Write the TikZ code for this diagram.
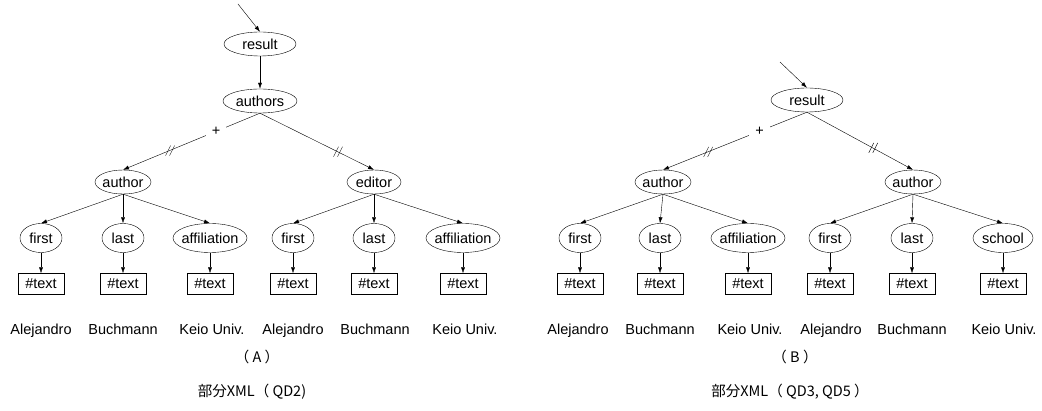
\documentclass[tikz,border=0pt]{standalone}
\usepackage{fontspec}
\setmainfont{Liberation Sans}
\newfontfamily\jpfont{Noto Sans CJK JP}
\usetikzlibrary{arrows.meta,shapes.geometric}

\tikzset{
  el/.style={draw, ellipse, inner sep=0pt, minimum height=24pt, minimum width=#1},
  leaf/.style={draw, ellipse, inner sep=0pt, minimum height=29pt, minimum width=#1},
  txt/.style={draw, rectangle, inner sep=0pt, minimum width=46pt, minimum height=21pt},
  val/.style={anchor=base},
  arr/.style={-{Latex[length=6pt,width=4pt]}},
  plus/.style={fill=white, inner sep=6pt},
}
\newcommand{\tg}[1]{\makebox[0pt]{#1}}
\newcommand{\cut}[1]{%
  \draw ([shift={(-4,5)}]#1) -- ++(5,-10);
  \draw ([shift={(0,5)}]#1) -- ++(5,-10);}

\begin{document}
\begin{tikzpicture}[x=1pt, y=-1pt, font=\fontsize{14.5}{17}\selectfont]
\useasboundingbox (0,0) rectangle (1042,411);

% (A) tree
\coordinate (inA) at (238,4);
\node[el=72pt] (resA) at (260,44) {\tg{result}};
\node[el=74pt] (auths) at (260,101) {\tg{authors}};
\node[el=56pt] (authA) at (123,182) {\tg{author}};
\node[el=54pt] (edit) at (374,182) {\tg{editor}};

\node[leaf=42pt] (fA1) at (41,238) {\tg{first}};
\node[leaf=42pt] (lA1) at (123,238) {\tg{last}};
\node[leaf=74pt] (aA1) at (210,238) {\tg{affiliation}};
\node[leaf=42pt] (fA2) at (293,238) {\tg{first}};
\node[leaf=42pt] (lA2) at (374,238) {\tg{last}};
\node[leaf=74pt] (aA2) at (463,238) {\tg{affiliation}};

\foreach \n in {fA1,lA1,aA1,fA2,lA2,aA2}
  \node[txt] (t\n) at ([yshift=-46pt]\n) {\#text};

\node[val] (vA1) at (41,335) {Alejandro};
\node[val] (vA2) at (123,335) {Buchmann};
\node[val] (vA3) at (212,335) {Keio Univ.};
\node[val] (vA4) at (293,335) {Alejandro};
\node[val] (vA5) at (375,335) {Buchmann};
\node[val] (vA6) at (465,335) {Keio Univ.};

\draw[arr] (inA) -- (resA.north);
\draw[arr] (resA) -- (auths);
\draw[arr] (auths.south) -- coordinate[pos=0.66] (cA1)
  node[pos=0.32, plus] (pA) {+} (authA.north);
\draw[arr] (auths.south) -- coordinate[pos=0.68] (cA2) (edit.north);
\cut{cA1}
\cut{cA2}

\foreach \c in {fA1,lA1,aA1}
  \draw[arr] (authA.south) -- (\c.north);
\foreach \c in {fA2,lA2,aA2}
  \draw[arr] (edit.south) -- (\c.north);
\foreach \c in {fA1,lA1,aA1,fA2,lA2,aA2}
  \draw[arr] (\c) -- (t\c);

\node (capA) at (257,357) {\jpfont （ A ）};
\node (subA) at (252,392) {\jpfont 部分XML（ QD2)};

% (B) tree
\coordinate (inB) at (780,62);
\node[el=72pt] (resB) at (807,100) {\tg{result}};
\node[el=56pt] (authB1) at (663,182) {\tg{author}};
\node[el=56pt] (authB2) at (913,182) {\tg{author}};

\node[leaf=42pt] (fB1) at (580,238) {\tg{first}};
\node[leaf=42pt] (lB1) at (660,238) {\tg{last}};
\node[leaf=74pt] (aB1) at (748,238) {\tg{affiliation}};
\node[leaf=42pt] (fB2) at (830,238) {\tg{first}};
\node[leaf=42pt] (lB2) at (912,238) {\tg{last}};
\node[leaf=60pt] (sB2) at (1003,238) {\tg{school}};

\foreach \n in {fB1,lB1,aB1,fB2,lB2,sB2}
  \node[txt] (t\n) at ([yshift=-46pt]\n) {\#text};

\node[val] (vB1) at (578,335) {Alejandro};
\node[val] (vB2) at (660,335) {Buchmann};
\node[val] (vB3) at (750,335) {Keio Univ.};
\node[val] (vB4) at (831,335) {Alejandro};
\node[val] (vB5) at (912,335) {Buchmann};
\node[val] (vB6) at (1004,335) {Keio Univ.};

\draw[arr] (inB) -- (resB.north);
\draw[arr] (resB.south) -- coordinate[pos=0.69] (cB1)
  node[pos=0.33, plus] (pB) {+} (authB1.north);
\draw[arr] (resB.south) -- coordinate[pos=0.62] (cB2) (authB2.north);
\cut{cB1}
\cut{cB2}

\foreach \c in {fB1,lB1,aB1}
  \draw[arr] (authB1.south) -- (\c.north);
\foreach \c in {fB2,lB2,sB2}
  \draw[arr] (authB2.south) -- (\c.north);
\foreach \c in {fB1,lB1,aB1,fB2,lB2,sB2}
  \draw[arr] (\c) -- (t\c);

\node (capB) at (795,357) {\jpfont （ B ）};
\node (subB) at (790,392) {\jpfont 部分XML（ QD3, QD5 ）};

\end{tikzpicture}
\end{document}
